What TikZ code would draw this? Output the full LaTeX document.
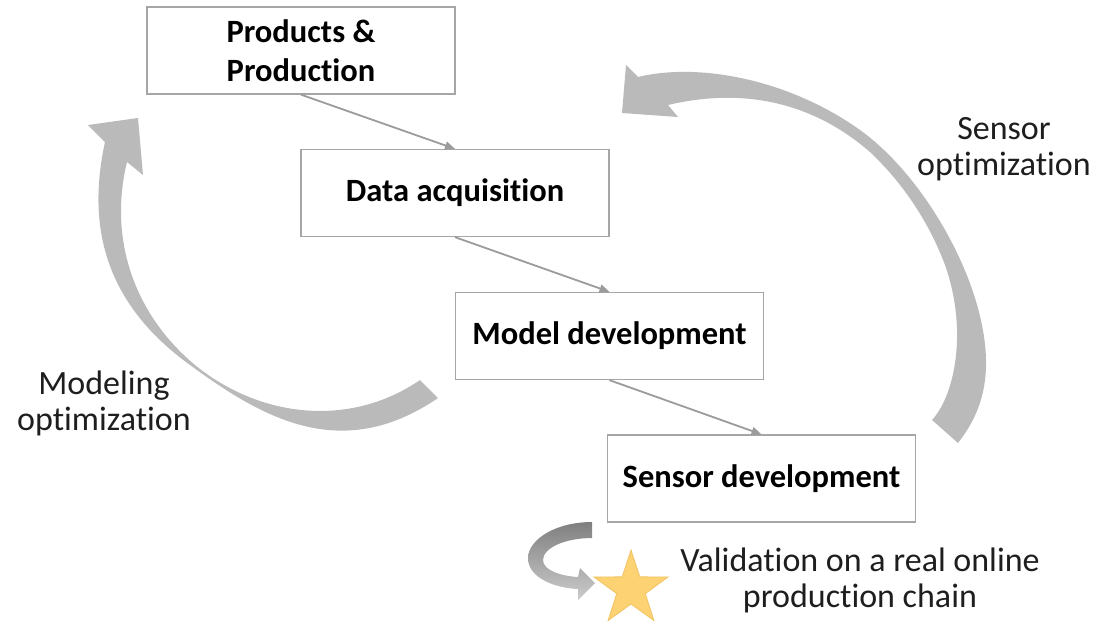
\documentclass[tikz,border=0pt]{standalone}
\usepackage{fontspec}
\setmainfont{Carlito}[Ligatures={NoCommon}]
\usetikzlibrary{arrows.meta,shapes.geometric}
\definecolor{boxline}{RGB}{166,166,166}
\definecolor{conn}{RGB}{155,155,155}
\definecolor{bigarrow}{RGB}{186,186,186}
\definecolor{starfill}{RGB}{253,210,115}
\definecolor{starline}{RGB}{242,195,100}
\definecolor{txt}{RGB}{30,30,30}
\begin{document}
\begin{tikzpicture}[x=1pt,y=-1pt,
  stagebox/.style={draw=boxline,line width=1.3pt,fill=white,minimum width=308pt,minimum height=87pt,inner sep=0pt,align=center,font=\fontsize{32.5}{39}\selectfont\bfseries},
  flow/.style={draw=conn,line width=1.8pt,-{Triangle[length=10pt,width=8pt]}},
  note/.style={align=center,font=\fontsize{34}{36}\selectfont,text=txt,inner sep=0pt},
  loopshape/.style={fill=bigarrow}]
\useasboundingbox (0,0) rectangle (1115,622);

% big curved arrow, left (modeling optimization)
\fill[loopshape] (88,125) -- (105,142)
  .. controls (88,220) and (100,300) .. (190,365)
  .. controls (260,416) and (340,465) .. (438,398)
  -- (420,380)
  .. controls (350,428) and (260,418) .. (195,365)
  .. controls (135,315) and (108,240) .. (127,162)
  -- (143,175) -- (138,118) -- cycle;

% big curved arrow, right (sensor optimization)
\fill[loopshape] (626,65) -- (638,77)
  .. controls (700,62) and (790,80) .. (860,130)
  .. controls (930,180) and (995,300) .. (985,380)
  .. controls (982,405) and (972,425) .. (958,443)
  -- (932,420)
  .. controls (955,395) and (968,330) .. (945,265)
  .. controls (930,225) and (905,185) .. (870,152)
  .. controls (810,100) and (740,88) .. (668,105)
  -- (678,117) -- (622,113) -- cycle;

% boxes
\node[stagebox] (pp) at (301,50.5) {Products \&\\Production};
\node[stagebox] (da) at (455,193) {Data acquisition};
\node[stagebox] (md) at (609.5,336) {Model development};
\node[stagebox] (sd) at (761.5,478.5) {Sensor development};

\draw[flow] (pp.south) -- (da.north);
\draw[flow] (da.south) -- (md.north);
\draw[flow] (md.south) -- (sd.north);

% small u-turn arrow
\shade[top color=black!50,bottom color=black!20] (592,522) .. controls (555,522) and (528,540) .. (528,558) .. controls (528,578) and (555,588) .. (578,589) -- (578,600) -- (595,583) -- (580,568) -- (578,577) .. controls (560,576) and (543,570) .. (543,560) .. controls (543,548) and (565,538) .. (592,538) -- cycle;

% star
\node[star,star points=5,star point ratio=2.6,minimum size=78pt,inner sep=0pt,fill=starfill,draw=starline,line width=0.8pt] (st) at (631,589) {};

% labels
\node[note] (so) at (1004,149) {Sensor\\optimization};
\node[note] (mo) at (104,403) {Modeling\\optimization};
\node[note] (vo) at (860,580) {Validation on a real online\\production chain};
\end{tikzpicture}
\end{document}
